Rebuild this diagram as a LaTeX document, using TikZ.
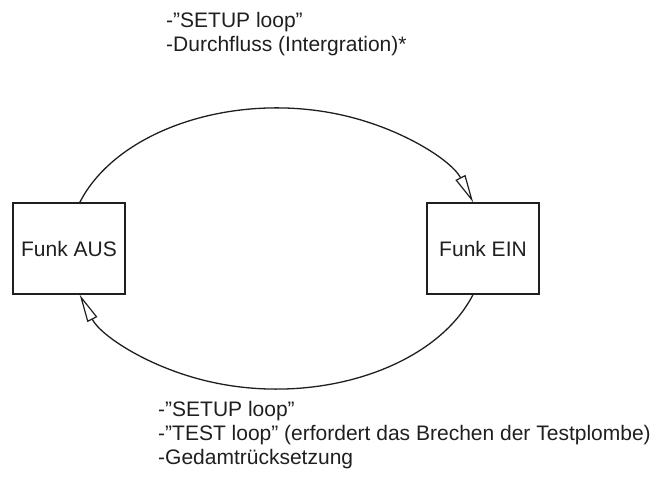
\documentclass[tikz,border=0pt]{standalone}
\usepackage{fontspec}
\setmainfont{Liberation Sans}
\usetikzlibrary{arrows.meta}
\tikzset{
  statebox/.style={draw=black!88, line width=1.3pt, minimum width=112pt, minimum height=91pt, inner sep=0pt, font=\fontsize{21}{24}\selectfont, text=black!88},
  lbl/.style={anchor=base west, inner sep=0pt, font=\fontsize{21}{24}\selectfont, text=black!88},
  flow/.style={draw=black!88, line width=1.3pt, -{Triangle[open, length=28pt, width=11pt, line width=1.2pt]}}
}
\begin{document}
\begin{tikzpicture}[x=1pt,y=1pt]
\useasboundingbox (0,0) rectangle (666,481);
\node[statebox] (aus) at (69,232.5) {Funk AUS};
\node[statebox] (ein) at (483,232.5) {Funk EIN};
\draw[flow] ([xshift=10.8pt]aus.north) arc[start angle=161, end angle=19, x radius=208pt, y radius=140pt];
\draw[flow] ([xshift=-10pt]ein.south) arc[start angle=-19, end angle=-161, x radius=208pt, y radius=140pt];
\node[lbl] (t1) at (166,453) {-”SETUP loop”};
\node[lbl] (t2) at (166,429) {-Durchfluss (Intergration)*};
\node[lbl] (b1) at (158,64) {-"SETUP loop"};
\node[lbl] (b2) at (158,40) {-”TEST loop” (erfordert das Brechen der Testplombe)};
\node[lbl] (b3) at (158,16.5) {-Gedamtrücksetzung};
\end{tikzpicture}
\end{document}
